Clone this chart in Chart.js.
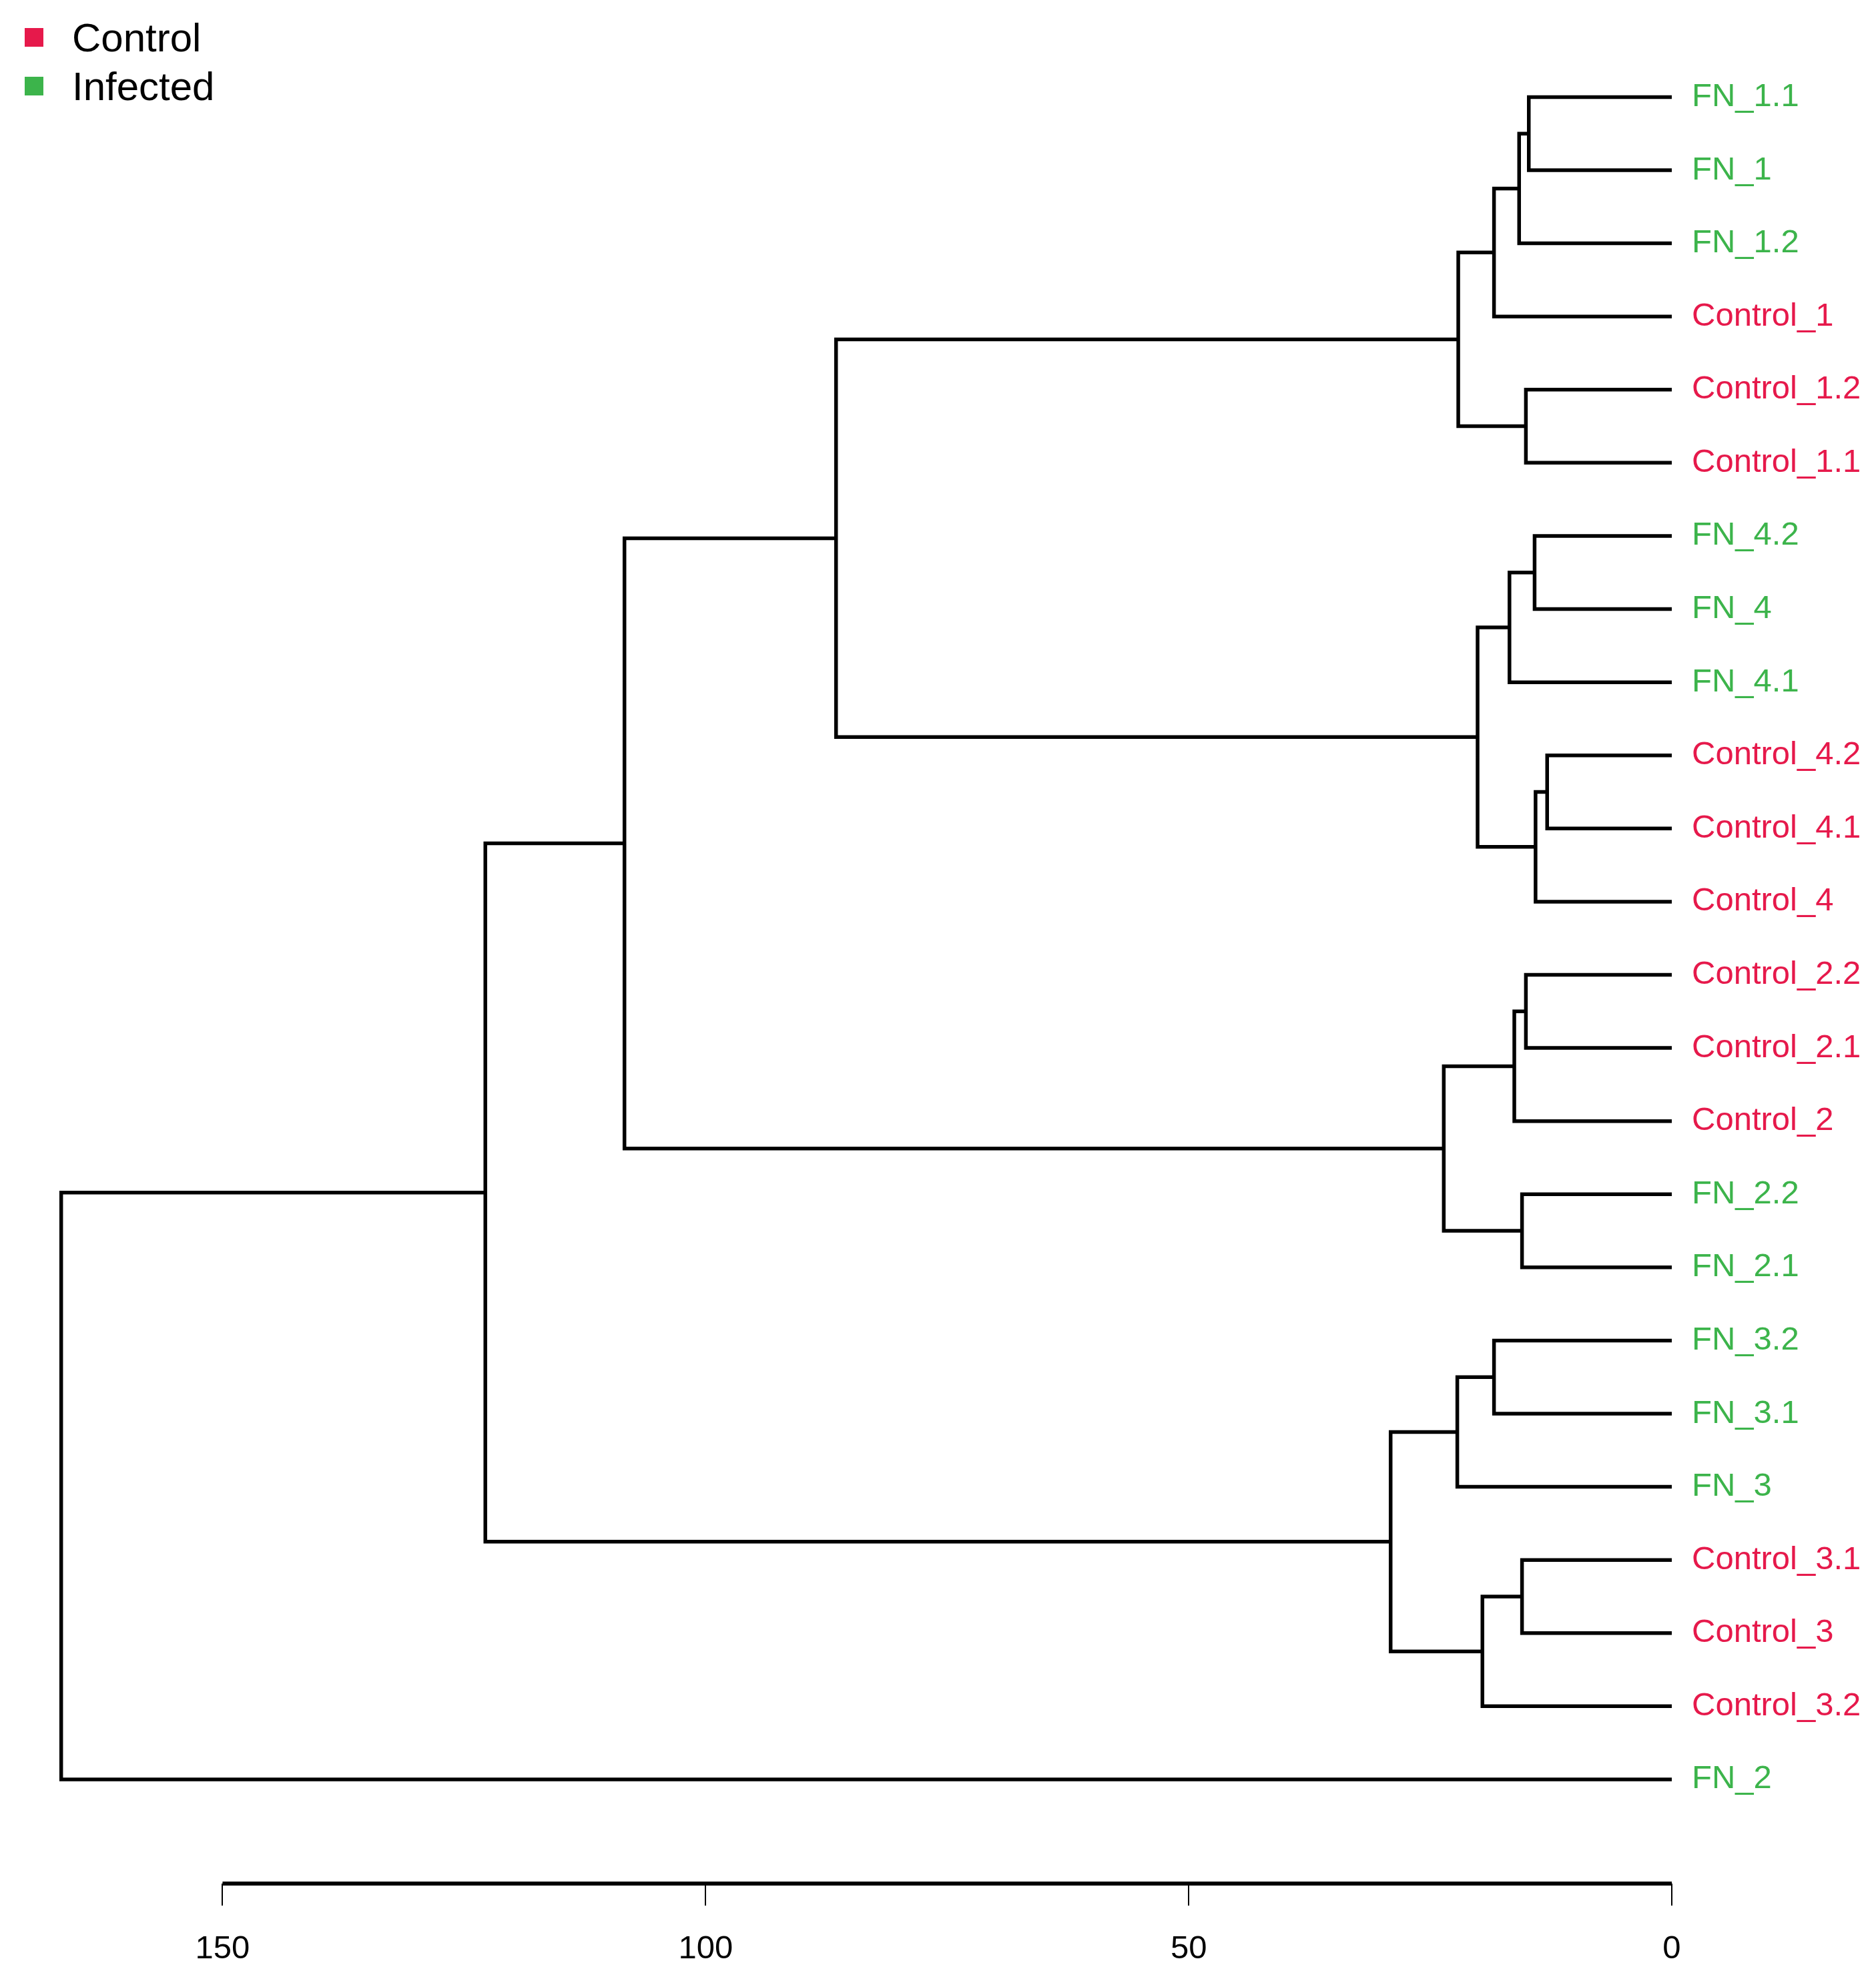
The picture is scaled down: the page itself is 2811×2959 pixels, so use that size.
<!DOCTYPE html>
<html>
<head>
<meta charset="utf-8">
<title>Dendrogram</title>
<script src="https://cdn.jsdelivr.net/npm/chart.js@4.4.1/dist/chart.umd.min.js"></script>
<style>
  html, body { margin: 0; padding: 0; background: #fff; }
  #wrap { width: 2811px; height: 2959px; }
</style>
</head>
<body>
<div id="wrap"><canvas id="myChart" width="2811" height="2959"></canvas></div>
<script>
// leaves, top to bottom
const leafNames = [
  'FN_1.1', 'FN_1', 'FN_1.2', 'Control_1', 'Control_1.2', 'Control_1.1',
  'FN_4.2', 'FN_4', 'FN_4.1', 'Control_4.2', 'Control_4.1', 'Control_4',
  'Control_2.2', 'Control_2.1', 'Control_2', 'FN_2.2', 'FN_2.1',
  'FN_3.2', 'FN_3.1', 'FN_3', 'Control_3.1', 'Control_3', 'Control_3.2', 'FN_2'
];
// 0 = Control, 1 = Infected
const leafGroup = [1, 1, 1, 0, 0, 0, 1, 1, 1, 0, 0, 0, 0, 0, 0, 1, 1, 1, 1, 1, 0, 0, 0, 1];
const groupNames = ['Control', 'Infected'];
const groupColors = ['#E6194B', '#3CB44B'];

// merges like R's hclust: negative = leaf (1-based), positive = earlier merge
const mergeLeft   = [-1,  1,  2, -5,  3, -7,  6, -10,  8,  7,  5, -13, 12, -16, 13, 11, -18, 17, -21, 19, 18, 16, 22];
const mergeRight  = [-2, -3, -4, -6,  4, -8, -9, -11, -12,  9, 10, -14, -15, -17, 14, 15, -19, -20, -22, -23, 20, 21, -24];
const mergeHeight = [14.8, 15.8, 18.4, 15.1, 22.1, 14.2, 16.8, 12.9, 14.1, 20.1, 86.5,
                     15.1, 16.3, 15.5, 23.6, 108.4, 18.4, 22.2, 15.5, 19.6, 29.1, 122.8, 166.7];

const axisTicks = [150, 100, 50, 0];

// branch paths
const nodeY = [];
const segments = [];
function nodePos(ref) {
    if (ref < 0) return { h: 0, y: -ref - 1 };
    return { h: mergeHeight[ref - 1], y: nodeY[ref - 1] };
}
mergeHeight.forEach((h, i) => {
    const a = nodePos(mergeLeft[i]);
    const b = nodePos(mergeRight[i]);
    nodeY[i] = (a.y + b.y) / 2;
    segments.push({ x: a.h, y: a.y }, { x: h, y: a.y }, { x: h, y: b.y }, { x: b.h, y: b.y });
    segments.push({ x: h, y: null }); // break
});

const extras = {
    id: 'extras',
    afterDraw(chart) {
        const ctx = chart.ctx;
        const x = chart.scales.x;
        const top = chart.chartArea.bottom;
        // axis line only across the tick range
        ctx.save();
        ctx.strokeStyle = '#000';
        ctx.lineWidth = 6;
        ctx.beginPath();
        ctx.moveTo(x.getPixelForValue(axisTicks[0]), top);
        ctx.lineTo(x.getPixelForValue(axisTicks[axisTicks.length - 1]), top);
        ctx.stroke();

        // legend
        ctx.font = '60px "Liberation Sans", Arial, sans-serif';
        ctx.textBaseline = 'alphabetic';
        ctx.textAlign = 'left';
        groupNames.forEach((name, i) => {
            ctx.fillStyle = groupColors[i];
            ctx.fillRect(37, 42 + i * 73, 28, 28);
            ctx.fillStyle = '#000';
            ctx.fillText(name, 108, 77 + i * 73);
        });
        ctx.restore();
    }
};

new Chart(document.getElementById('myChart'), {
    type: 'scatter',
    data: {
        datasets: [{
            data: segments,
            showLine: true,
            spanGaps: false,
            borderColor: '#000',
            borderWidth: 5.5,
            borderJoinStyle: 'miter',
            borderCapStyle: 'butt',
            pointRadius: 0,
            pointHoverRadius: 0
        }]
    },
    options: {
        responsive: false,
        animation: false,
        events: [],
        layout: { padding: { left: 40, top: 40, right: 0, bottom: 0 } },
        plugins: { legend: { display: false }, tooltip: { enabled: false } },
        scales: {
            x: {
                type: 'linear',
                reverse: true,
                min: 0,
                max: 170.27,
                afterBuildTicks: s => { s.ticks = axisTicks.map(v => ({ value: v })); },
                afterFit: s => { s.height = 137; s.paddingLeft = 0; s.paddingRight = 0; },
                border: { display: false },
                grid: { drawOnChartArea: false, drawTicks: true, tickLength: 33, lineWidth: 2, color: '#000' },
                ticks: {
                    autoSkip: false,
                    maxRotation: 0,
                    padding: 36,
                    color: '#000',
                    font: { family: '"Liberation Sans", Arial, sans-serif', size: 49 }
                }
            },
            y: {
                type: 'linear',
                position: 'right',
                reverse: true,
                min: -0.962,
                max: 24.424,
                afterBuildTicks: s => { s.ticks = leafNames.map((_, i) => ({ value: i })); },
                afterFit: s => { s.width = 306; s.paddingTop = 0; s.paddingBottom = 0; },
                border: { display: false },
                grid: { display: false, drawTicks: false },
                ticks: {
                    autoSkip: false,
                    padding: 30,
                    callback: v => leafNames[v],
                    color: c => groupColors[leafGroup[c.tick.value]],
                    font: { family: '"Liberation Sans", Arial, sans-serif', size: 49 }
                }
            }
        }
    },
    plugins: [extras]
});
</script>
</body>
</html>
